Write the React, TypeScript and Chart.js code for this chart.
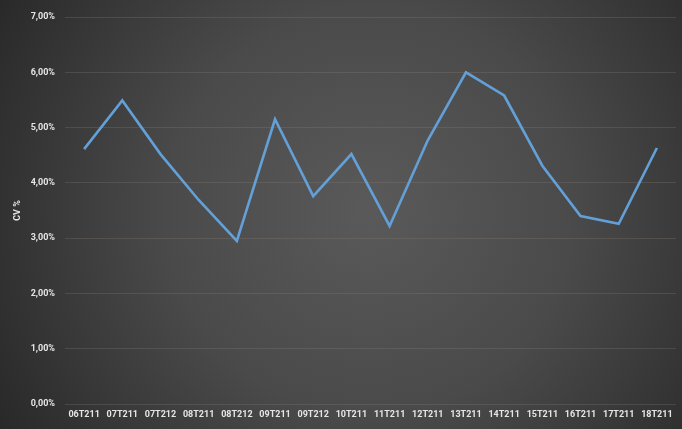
import React, { useEffect, useRef } from "react";
import { Chart, registerables } from "chart.js";

Chart.register(...registerables);

const categories = [
  "06T211", "07T211", "07T212", "08T211", "08T212", "09T211", "09T212", "10T211",
  "11T211", "12T211", "13T211", "14T211", "15T211", "16T211", "17T211", "18T211",
];
const cvValues = [
  4.61, 5.49, 4.52, 3.69, 2.95, 5.15, 3.76, 4.52, 3.22, 4.77, 6.0, 5.58, 4.31, 3.4, 3.26, 4.63,
];
const yMin = 0;
const yMax = 7;
const yStep = 1;
const yTitle = "CV %";

const bgPlugin = {
  id: "bgGradient",
  beforeDraw(chart: any) {
    const { ctx, width, height } = chart;
    ctx.save();
    const g = ctx.createRadialGradient(370, 210, 10, 370, 210, 440);
    g.addColorStop(0, "#595959");
    g.addColorStop(0.45, "#4a4a4a");
    g.addColorStop(1, "#272727");
    ctx.fillStyle = g;
    ctx.fillRect(0, 0, width, height);
    ctx.restore();
  },
};

export default function App() {
  const ref = useRef<HTMLCanvasElement>(null);
  useEffect(() => {
    document.body.style.margin = "0";
    const font = { family: "Roboto, 'Open Sans', sans-serif", size: 9, weight: "bold" as const };
    const chart = new Chart(ref.current!, {
      type: "line",
      data: {
        labels: categories,
        datasets: [
          {
            data: cvValues,
            borderColor: "#63a0d8",
            borderWidth: 2.6,
            pointRadius: 0,
            tension: 0,
            fill: false,
          },
        ],
      },
      options: {
        animation: false,
        responsive: false,
        maintainAspectRatio: false,
        layout: { padding: { top: 17, right: 6, left: 0, bottom: 0 } },
        plugins: { legend: { display: false }, tooltip: { enabled: false } },
        scales: {
          x: {
            offset: true,
            grid: { display: false, drawTicks: false },
            border: { display: false },
            ticks: { color: "#e6e6e6", font, padding: 5, maxRotation: 0, autoSkip: false },
            afterFit: (s: any) => { s.height = 25; },
          },
          y: {
            min: yMin,
            max: yMax,
            grid: { color: "rgba(140,125,115,0.28)", lineWidth: 1, drawTicks: false },
            border: { display: false },
            ticks: {
              stepSize: yStep,
              color: "#e6e6e6",
              font,
              padding: 10,
              callback: (v: any) => Number(v).toFixed(2).replace(".", ",") + "%",
            },
            title: {
              display: true,
              text: yTitle,
              color: "#e6e6e6",
              font,
              padding: { top: 12, bottom: 0 },
            },
            afterFit: (s: any) => { s.width = 65; },
          },
        },
      },
      plugins: [bgPlugin],
    });
    return () => chart.destroy();
  }, []);
  return (
    <div style={{ position: "fixed", left: 0, top: 0, width: 682, height: 429 }}>
      <canvas ref={ref} width={682} height={429} style={{ display: "block" }} />
    </div>
  );
}
